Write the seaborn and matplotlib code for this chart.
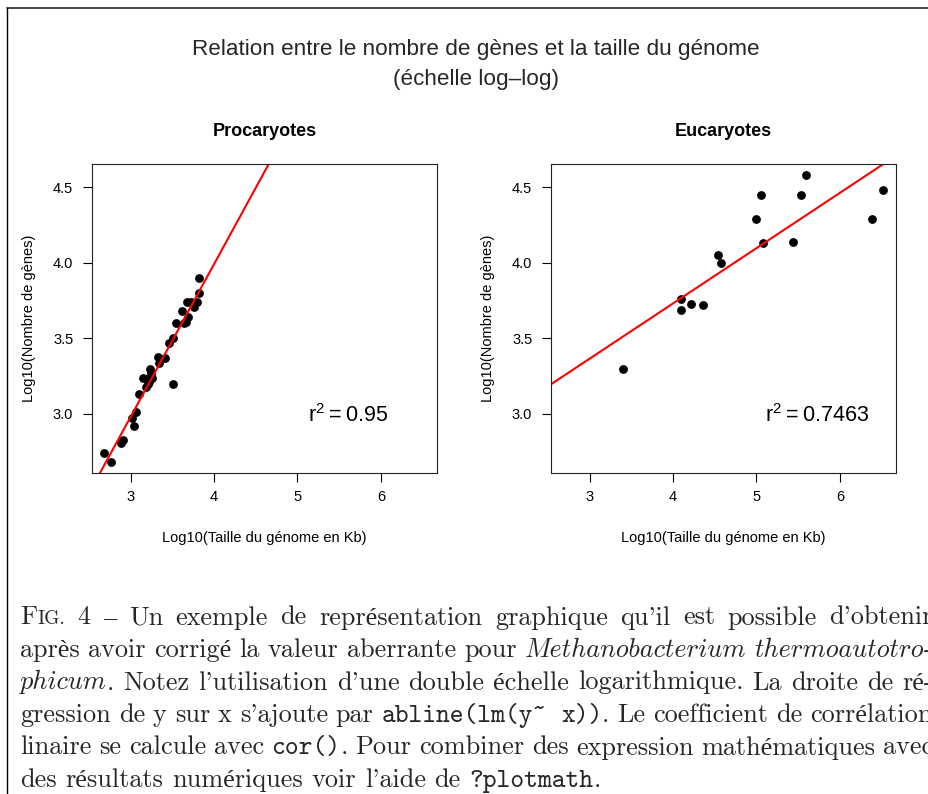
import matplotlib
matplotlib.use("Agg")
import matplotlib.pyplot as plt
import seaborn as sns
import pandas as pd
from matplotlib.lines import Line2D

# Values (log10 scale)
pro_taille = [2.68, 2.76, 2.88, 2.91, 3.02, 3.06, 3.04, 3.10, 3.15, 3.19, 3.21, 3.23, 3.25, 3.26, 3.20, 3.22,
              3.33, 3.34, 3.41, 3.46, 3.51, 3.51, 3.55, 3.62, 3.68, 3.69, 3.67, 3.64, 3.73, 3.76, 3.80, 3.82, 3.82]
pro_genes = [2.74, 2.68, 2.81, 2.83, 2.97, 3.01, 2.92, 3.13, 3.24, 3.18, 3.20, 3.30, 3.27, 3.24, 3.23, 3.21,
             3.38, 3.34, 3.37, 3.47, 3.50, 3.20, 3.60, 3.68, 3.74, 3.64, 3.61, 3.60, 3.74, 3.71, 3.74, 3.80, 3.90]
euk_taille = [3.40, 4.09, 4.09, 4.22, 4.36, 4.54, 4.58, 5.00, 5.06, 5.08, 5.44, 5.53, 5.59, 6.38, 6.52]
euk_genes = [3.30, 3.76, 3.69, 3.73, 3.72, 4.05, 4.00, 4.29, 4.45, 4.13, 4.14, 4.45, 4.58, 4.29, 4.48]

panel_titles = ["Procaryotes", "Eucaryotes"]
r2_values = ["0.95", "0.7463"]
x_ticks = [3, 4, 5, 6]
y_ticks = [3.0, 3.5, 4.0, 4.5]

sns.set_theme(style="ticks")
plt.rcParams['font.family'] = ['Liberation Sans', 'DejaVu Sans']
plt.rcParams['mathtext.default'] = 'regular'

fig = plt.figure(figsize=(9.29, 7.94), dpi=100)

# frame around the figure (page box)
fig.add_artist(Line2D([7.5 / 929, 1], [1 - 7.5 / 794] * 2, transform=fig.transFigure, color='#444444', lw=1.4))
fig.add_artist(Line2D([7.5 / 929] * 2, [0, 1 - 7.5 / 794], transform=fig.transFigure, color='black', lw=1.0))

fig.text(0.512, 1 - 50 / 794, "Relation entre le nombre de gènes et la taille du génome",
         ha='center', va='center', fontsize=16.2)
fig.text(0.512, 1 - 79 / 794, "(échelle log–log)", ha='center', va='center', fontsize=16.2)

panels = [
    pd.DataFrame({'taille': pro_taille, 'genes': pro_genes}),
    pd.DataFrame({'taille': euk_taille, 'genes': euk_genes}),
]
lefts = [92 / 929, 551 / 929]
r2_pos = [(5.61, 2.95), (5.73, 2.95)]

for i, df in enumerate(panels):
    ax = fig.add_axes([lefts[i], 1 - 473 / 794, 345 / 929, 309 / 794])
    ax.set_xlim(2.538, 6.672)
    ax.set_ylim(2.609, 4.655)
    sns.regplot(data=df, x='taille', y='genes', ax=ax, ci=None, truncate=False,
                scatter_kws=dict(s=40, color='black', linewidths=0, alpha=1),
                line_kws=dict(color='#ff0000', lw=1.5))
    ax.set_xlim(2.538, 6.672)
    ax.set_ylim(2.609, 4.655)
    ax.set_xticks(x_ticks)
    ax.set_xticklabels([str(t) for t in x_ticks])
    ax.set_yticks(y_ticks)
    ax.set_yticklabels([f"{t:.1f}" for t in y_ticks])
    ax.tick_params(axis='both', direction='out', length=6.5, width=0.8, color='black',
                   labelsize=10.5, labelcolor='black')
    ax.tick_params(axis='x', pad=5.5)
    ax.tick_params(axis='y', pad=7)
    for sp in ax.spines.values():
        sp.set_visible(True)
        sp.set_color('#222222')
        sp.set_linewidth(0.8)
    ax.set_xlabel("Log10(Taille du génome en Kb)", fontsize=10.5, color='black')
    ax.set_ylabel("Log10(Nombre de gènes)", fontsize=10.5, color='black')
    ax.xaxis.set_label_coords(0.5, -65 / 309)
    ax.xaxis.label.set_va('center')
    ax.yaxis.set_label_coords(-63 / 345, 0.5)
    ax.yaxis.label.set_va('center')
    ax.set_title(panel_titles[i], fontsize=13, fontweight='bold', pad=20, color='black')
    ax.text(r2_pos[i][0], r2_pos[i][1], r"$r^2 = " + r2_values[i] + "$", ha='center', va='baseline',
            fontsize=15.5, color='black')

# caption: justified lines, each word built from pieces (text, style, fixed gap in points)
fs = 18.9
styles = {
    'rm': dict(family=['cmr10', 'Liberation Serif'], fontsize=fs),
    'sc': dict(family=['cmr10', 'Liberation Serif'], fontsize=fs * 0.74),
    'it': dict(family=['cmmi10', 'Liberation Serif'], fontsize=fs),
    'tt': dict(family=['cmtt10', 'Liberation Mono'], fontsize=fs),
}


def words(text, st='rm'):
    return [[(w, st, 0)] for w in text.split()]


caption = [
    [[("F", 'rm', 0), ("IG.", 'sc', 0)]]
    + words("4 – Un exemple de représentation graphique qu'il est possible d'obtenir"),
    words("après avoir corrigé la valeur aberrante pour")
    + [[("Methanobacterium", 'it', 0)], [("thermoautotro", 'it', 0), ("-", 'rm', 0)]],
    [[("phicum", 'it', 0), (".", 'rm', 0)]]
    + words("Notez l'utilisation d'une double échelle logarithmique. La droite de ré-"),
    words("gression de y sur x s'ajoute par")
    + [[("abline(lm(y~", 'tt', 0), ("x))", 'tt', 10.2), (".", 'rm', 0)]]
    + words("Le coefficient de corrélation"),
    words("linaire se calcule avec") + [[("cor()", 'tt', 0), (".", 'rm', 0)]]
    + words("Pour combiner des expression mathématiques avec"),
    words("des résultats numériques voir l'aide de") + [[("?plotmath", 'tt', 0), (".", 'rm', 0)]],
]

renderer = fig.canvas.get_renderer()
px = fig.dpi / 72.0
left_px, right_px = 20.0, 933.0
natural_space = 0.333 * fs * px


def piece_width(text, st):
    t = fig.text(0, 0, text, **styles[st])
    w = t.get_window_extent(renderer).width
    t.remove()
    return w


for k, line in enumerate(caption):
    yb = 1 - (624.5 + 32.5 * k) / 794
    widths = [sum(g * px + piece_width(s, st) for s, st, g in word) for word in line]
    if k < len(caption) - 1:
        space = (right_px - left_px - sum(widths)) / (len(line) - 1)
    else:
        space = natural_space
    x = left_px
    for word, w in zip(line, widths):
        xx = x
        for s, st, g in word:
            xx += g * px
            fig.text(xx / 929, yb, s, ha='left', va='baseline', **styles[st])
            xx += piece_width(s, st)
        x += w + space

fig.savefig("out.png", dpi=100)
